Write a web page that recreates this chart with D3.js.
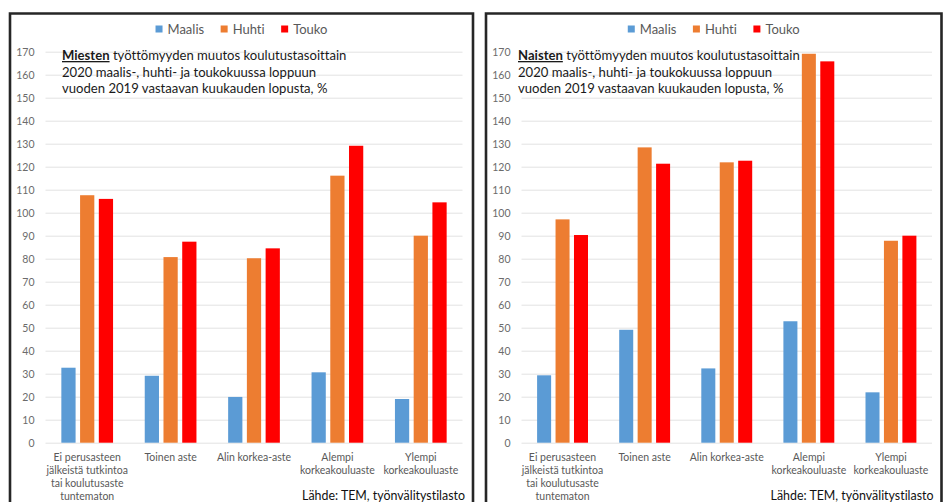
<!DOCTYPE html>
<html>
<head>
<meta charset="utf-8">
<script src="https://cdn.jsdelivr.net/npm/d3@7"></script>
<style>
  html, body { margin: 0; padding: 0; background: #fff; }
  svg { display: block; font-family: Lato, "Open Sans", sans-serif; font-variant-ligatures: none; }
</style>
</head>
<body>
<svg id="chart" width="944" height="502"></svg>
<script>
// Education levels (x axis), with line breaks for the wrapped labels
const categories = [
  "Ei perusasteen|jälkeistä tutkintoa|tai koulutusaste|tuntematon",
  "Toinen aste",
  "Alin korkea-aste",
  "Alempi|korkeakouluaste",
  "Ylempi|korkeakouluaste"
];
const seriesNames = ["Maalis", "Huhti", "Touko"];
const seriesColors = ["#5B9BD5", "#ED7D31", "#FF0000"];

// Men: change in unemployment vs. same month 2019, %
const menMaalis = [32.6, 29.1, 19.9, 30.6, 19.0];
const menHuhti  = [107.6, 80.7, 80.2, 116.1, 90.0];
const menTouko  = [106.0, 87.4, 84.5, 129.1, 104.5];

// Women: change in unemployment vs. same month 2019, %
const womenMaalis = [29.3, 49.1, 32.3, 52.8, 21.9];
const womenHuhti  = [97.1, 128.4, 121.9, 169.1, 87.8];
const womenTouko  = [90.3, 121.3, 122.6, 165.8, 90.0];

const yTicks = d3.range(0, 171, 10);
const titleBold = ["Miesten", "Naisten"];
const titleRest = [
  " työttömyyden muutos koulutustasoittain",
  "2020 maalis-, huhti- ja toukokuussa loppuun",
  "vuoden 2019 vastaavan kuukauden lopusta, %"
];
const sourceText = "Lähde: TEM, työnvälitystilasto";

const svg = d3.select("#chart");

function drawPanel(cfg) {
  const g = svg.append("g");
  const { frameL, frameR, frameT, plotL, plotR, titleX, data, bold } = cfg;

  const y = d3.scaleLinear().domain([0, 170]).range([442.7, 51.7]);
  const x0 = d3.scaleBand().domain(categories).range([plotL, plotR])
    .paddingInner(0.38).paddingOuter(0.19);
  const x1 = d3.scaleBand().domain(seriesNames).range([0, x0.bandwidth()])
    .paddingInner(0.24);

  // frame (open at the bottom)
  g.append("path")
    .attr("d", `M${frameL},520 V${frameT} H${frameR} V520`)
    .attr("fill", "none").attr("stroke", "#262626").attr("stroke-width", 2.6);

  // gridlines + tick labels
  const yAxis = d3.axisLeft(y).tickValues(yTicks).tickSize(-(plotR - plotL)).tickPadding(11);
  const ax = g.append("g").attr("transform", `translate(${plotL},0)`).call(yAxis);
  ax.select(".domain").remove();
  ax.selectAll(".tick line").attr("stroke", "#e3e3e3").attr("stroke-width", 1);
  ax.selectAll(".tick text").attr("fill", "#6b6b6b").attr("font-size", 10.5)
    .attr("font-family", "Lato, sans-serif");

  // bars
  const rows = categories.map((c, i) => ({ cat: c, vals: data.map(s => s[i]) }));
  const grp = g.selectAll("g.grp").data(rows).join("g")
    .attr("transform", d => `translate(${x0(d.cat)},0)`);
  grp.selectAll("rect").data(d => d.vals.map((v, k) => ({ v, k }))).join("rect")
    .attr("x", d => x1(seriesNames[d.k]))
    .attr("width", x1.bandwidth())
    .attr("y", d => y(d.v))
    .attr("height", d => y(0) - y(d.v))
    .attr("fill", d => seriesColors[d.k]);

  // category labels
  const lab = g.selectAll("text.cat").data(categories).join("text")
    .attr("class", "cat")
    .attr("x", d => x0(d) + x0.bandwidth() / 2)
    .attr("y", 460.5)
    .attr("text-anchor", "middle")
    .attr("fill", "#595959").attr("font-size", 10.5);
  lab.selectAll("tspan").data(d => d.split("|")).join("tspan")
    .attr("x", function () { return d3.select(this.parentNode).attr("x"); })
    .attr("dy", (d, i) => i === 0 ? 0 : 13)
    .text(d => d);

  // legend, centred in the frame
  const leg = g.append("g");
  let cx = 0;
  seriesNames.forEach((name, k) => {
    leg.append("rect").attr("x", cx).attr("y", -3.5).attr("width", 7).attr("height", 7)
      .attr("fill", seriesColors[k]);
    const t = leg.append("text").attr("x", cx + 12).attr("y", 4.5)
      .attr("fill", "#595959").attr("font-size", 13).text(name);
    cx += 12 + t.node().getComputedTextLength() + 16.5;
  });
  const legW = cx - 16.5;
  leg.attr("transform", `translate(${(frameL + frameR) / 2 - legW / 2},29)`);

  // title
  const title = g.append("text").attr("x", titleX).attr("y", 60)
    .attr("fill", "#1a1a1a").attr("font-size", 13.1);
  title.append("tspan").attr("font-weight", "bold").attr("text-decoration", "underline")
    .text(bold);
  title.append("tspan").text(titleRest[0]);
  title.append("tspan").attr("x", titleX).attr("dy", 16.7).text(titleRest[1]);
  title.append("tspan").attr("x", titleX).attr("dy", 16.7).text(titleRest[2]);

  // source
  g.append("text").attr("x", frameR - 8).attr("y", 499.5).attr("text-anchor", "end")
    .attr("fill", "#111").attr("font-size", 12.4).text(sourceText);
}

drawPanel({
  frameL: 10, frameR: 473, frameT: 13.5, plotL: 45.5, plotR: 462.5, titleX: 62,
  data: [menMaalis, menHuhti, menTouko], bold: titleBold[0]
});
drawPanel({
  frameL: 486, frameR: 941.5, frameT: 13.5, plotL: 521.5, plotR: 932, titleX: 518,
  data: [womenMaalis, womenHuhti, womenTouko], bold: titleBold[1]
});
</script>
</body>
</html>
